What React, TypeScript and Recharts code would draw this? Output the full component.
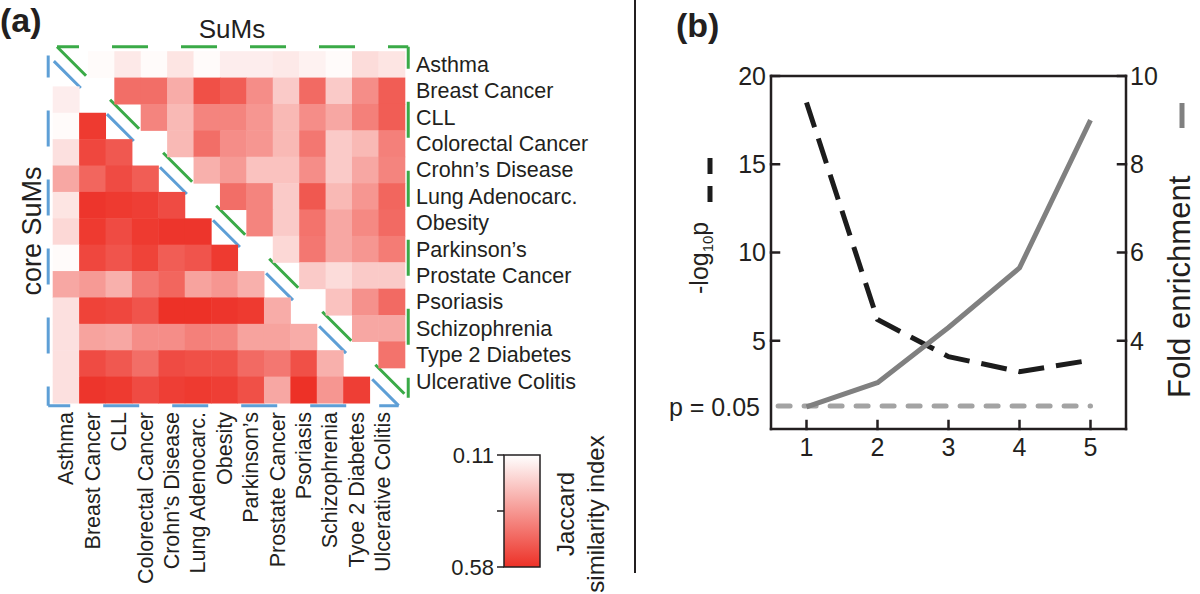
import React from "react";
import { ComposedChart, Line, ReferenceLine, Scatter, ScatterChart, XAxis, YAxis } from "recharts";

const FONT = "'Liberation Sans', Arial, Helvetica, sans-serif";
const INK = "#231F20";
const GREEN = "#3AAA47";
const BLUE = "#5E9FD6";

// ---- panel (a): Jaccard similarity between disease modules ----
const DISEASES = [
  "Asthma",
  "Breast Cancer",
  "CLL",
  "Colorectal Cancer",
  "Crohn’s Disease",
  "Lung Adenocarc.",
  "Obesity",
  "Parkinson’s",
  "Prostate Cancer",
  "Psoriasis",
  "Schizophrenia",
  "Type 2 Diabetes",
  "Ulcerative Colitis",
];

// labels as printed under the matrix
const COLUMN_LABELS = [
  "Asthma",
  "Breast Cancer",
  "CLL",
  "Colorectal Cancer",
  "Crohn’s Disease",
  "Lung Adenocarc.",
  "Obesity",
  "Parkinson’s",
  "Prostate Cancer",
  "Psoriasis",
  "Schizophrenia",
  "Tyoe 2 Diabetes",
  "Ulcerative Colitis",
];

// SuMs, upper triangle: row r holds columns r+1..12
const SUMS_UPPER = [
  [0.12, 0.16, 0.12, 0.17, 0.12, 0.15, 0.15, 0.16, 0.14, 0.12, 0.19, 0.17],
  [0.44, 0.44, 0.3, 0.51, 0.48, 0.37, 0.23, 0.45, 0.23, 0.37, 0.48],
  [0.39, 0.27, 0.39, 0.39, 0.35, 0.27, 0.37, 0.31, 0.4, 0.48],
  [0.27, 0.44, 0.37, 0.35, 0.27, 0.42, 0.23, 0.27, 0.4],
  [0.29, 0.34, 0.25, 0.25, 0.37, 0.23, 0.31, 0.39],
  [0.44, 0.39, 0.23, 0.49, 0.27, 0.35, 0.46],
  [0.39, 0.23, 0.43, 0.31, 0.38, 0.45],
  [0.2, 0.42, 0.31, 0.35, 0.41],
  [0.23, 0.19, 0.23, 0.23],
  [0.25, 0.36, 0.45],
  [0.31, 0.31],
  [0.43],
];

// core SuMs, lower triangle: row r holds columns 0..r-1
const CORE_LOWER = [
  [],
  [0.15],
  [0.12, 0.56],
  [0.18, 0.53, 0.49],
  [0.31, 0.46, 0.52, 0.48],
  [0.17, 0.57, 0.56, 0.55, 0.52],
  [0.2, 0.56, 0.52, 0.56, 0.57, 0.57],
  [0.12, 0.53, 0.5, 0.54, 0.48, 0.5, 0.56],
  [0.31, 0.34, 0.29, 0.42, 0.46, 0.32, 0.35, 0.29],
  [0.18, 0.54, 0.53, 0.5, 0.58, 0.58, 0.57, 0.56, 0.3],
  [0.18, 0.32, 0.31, 0.37, 0.37, 0.4, 0.39, 0.32, 0.32, 0.3],
  [0.18, 0.52, 0.49, 0.44, 0.52, 0.51, 0.51, 0.45, 0.42, 0.51, 0.29],
  [0.18, 0.57, 0.56, 0.52, 0.55, 0.56, 0.55, 0.51, 0.31, 0.58, 0.35, 0.55],
];

const JACCARD_MIN = 0.11;
const JACCARD_MAX = 0.58;

// ---- panel (b) ----
const ORDER = [1, 2, 3, 4, 5];
const NEG_LOG_P = [18.5, 6.2, 4.1, 3.25, 3.9];
const FOLD_ENRICHMENT = [2.5, 3.05, 4.3, 5.65, 9.0];
const P_THRESHOLD = 1.3; // -log10(0.05)

const upperCells = SUMS_UPPER.flatMap((row, r) => row.map((v, k) => ({ x: r + 1 + k, y: r, v })));
const lowerCells = CORE_LOWER.flatMap((row, r) => row.map((v, c) => ({ x: c, y: r, v })));
const enrichData = ORDER.map((x, i) => ({ x, p: NEG_LOG_P[i], fold: FOLD_ENRICHMENT[i] }));

const RED = [237, 49, 39];
function jaccardColor(v: number) {
  const t = Math.max(0, Math.min(1, (v - JACCARD_MIN) / (JACCARD_MAX - JACCARD_MIN)));
  const c = RED.map((ch) => Math.round(255 + (ch - 255) * t));
  return `rgb(${c[0]},${c[1]},${c[2]})`;
}

const HM_W = 600;
const HM_H = 594;
// the visible bottom x axis and right y axis take 1px each
const HM_MARGIN = { top: 60, right: 203, bottom: 190, left: 52.7 };
const CELL = (HM_W - HM_MARGIN.left - HM_MARGIN.right - 1) / 13;
const SHIFT = 1 / 3; // the SuMs triangle sits a third of a cell up and right
const IDX = DISEASES.map((_, i) => i);
const LABEL_SIZE = 21.5;

const CellShape = (props: any) => {
  const { cx, cy, payload } = props;
  return (
    <rect
      x={cx - CELL / 2}
      y={cy - CELL / 2}
      width={CELL + 0.5}
      height={CELL + 0.5}
      fill={jaccardColor(payload.v)}
    />
  );
};

const RowTick = ({ x, y, payload }: any) => (
  <text x={x} y={y} dy="0.35em" textAnchor="start" fontSize={LABEL_SIZE} fontFamily={FONT} fill={INK}>
    {DISEASES[payload.value]}
  </text>
);

const ColTick = ({ x, y, payload }: any) => (
  <text
    x={x}
    y={y}
    dy="0.35em"
    textAnchor="end"
    transform={`rotate(-90 ${x} ${y})`}
    fontSize={LABEL_SIZE}
    fontFamily={FONT}
    fill={INK}
  >
    {COLUMN_LABELS[payload.value]}
  </text>
);

const E = -0.67;
const G_END = 12.63;
const B_END = 12.6;

function Heatmap() {
  return (
    <ScatterChart width={HM_W} height={HM_H} margin={HM_MARGIN}>
      <XAxis
        xAxisId="low"
        type="number"
        dataKey="x"
        domain={[-0.5, 12.5]}
        ticks={IDX}
        interval={0}
        height={1}
        axisLine={false}
        tickLine={false}
        tickSize={0}
        tickMargin={9}
        tick={<ColTick />}
      />
      <XAxis xAxisId="up" type="number" dataKey="x" domain={[-0.5 - SHIFT, 12.5 - SHIFT]} hide />
      <YAxis yAxisId="low" type="number" dataKey="y" domain={[-0.5, 12.5]} reversed hide />
      <YAxis
        yAxisId="up"
        orientation="right"
        type="number"
        dataKey="y"
        domain={[-0.5 + SHIFT, 12.5 + SHIFT]}
        reversed
        ticks={IDX}
        interval={0}
        width={1}
        axisLine={false}
        tickLine={false}
        tickSize={0}
        tickMargin={20}
        tick={<RowTick />}
      />
      <Scatter data={lowerCells} xAxisId="low" yAxisId="low" shape={<CellShape />} isAnimationActive={false} />
      <Scatter data={upperCells} xAxisId="up" yAxisId="up" shape={<CellShape />} isAnimationActive={false} />

      {/* SuMs frame */}
      <ReferenceLine xAxisId="up" yAxisId="up" ifOverflow="visible" segment={[{ x: E, y: E }, { x: G_END, y: E }]}
        stroke={GREEN} strokeWidth={3} strokeDasharray="36 33" strokeDashoffset={14} />
      <ReferenceLine xAxisId="up" yAxisId="up" ifOverflow="visible" segment={[{ x: G_END, y: E }, { x: G_END, y: G_END }]}
        stroke={GREEN} strokeWidth={3} strokeDasharray="36 33" strokeDashoffset={14} />
      <ReferenceLine xAxisId="up" yAxisId="up" ifOverflow="visible" segment={[{ x: E, y: E }, { x: G_END, y: G_END }]}
        stroke={GREEN} strokeWidth={3} strokeDasharray="41 34" />

      {/* core SuMs frame */}
      <ReferenceLine xAxisId="low" yAxisId="low" ifOverflow="visible" segment={[{ x: E, y: E }, { x: E, y: B_END }]}
        stroke={BLUE} strokeWidth={3} strokeDasharray="36 33" strokeDashoffset={14} />
      <ReferenceLine xAxisId="low" yAxisId="low" ifOverflow="visible" segment={[{ x: E, y: B_END }, { x: B_END, y: B_END }]}
        stroke={BLUE} strokeWidth={3} strokeDasharray="36 33" strokeDashoffset={14} />
      <ReferenceLine xAxisId="low" yAxisId="low" ifOverflow="visible" segment={[{ x: E, y: E }, { x: B_END, y: B_END }]}
        stroke={BLUE} strokeWidth={3} strokeDasharray="38 37" strokeDashoffset={67} />
    </ScatterChart>
  );
}

const tickFont = { fontSize: 25, fontFamily: FONT, fill: INK };
const axisStroke = { stroke: INK, strokeWidth: 2.5, strokeLinecap: "square" as const };

function EnrichmentChart() {
  return (
    <ComposedChart width={560} height={594} data={enrichData} margin={{ top: 76, right: 73, bottom: 164, left: 130 }}>
      <XAxis
        dataKey="x"
        type="number"
        domain={[0.5, 5.5]}
        ticks={ORDER}
        interval={0}
        height={1}
        axisLine={axisStroke}
        tickLine={axisStroke}
        tickSize={-8}
        tickMargin={17}
        tick={tickFont}
      />
      <YAxis
        yAxisId="p"
        type="number"
        domain={[0, 20]}
        ticks={[5, 10, 15, 20]}
        interval={0}
        width={1}
        axisLine={axisStroke}
        tickLine={axisStroke}
        tickSize={-8}
        tickMargin={13}
        tick={tickFont}
      />
      <YAxis
        yAxisId="fold"
        orientation="right"
        type="number"
        domain={[2, 10]}
        ticks={[4, 6, 8, 10]}
        interval={0}
        width={1}
        axisLine={axisStroke}
        tickLine={axisStroke}
        tickSize={-8}
        tickMargin={12}
        tick={tickFont}
      />
      <ReferenceLine yAxisId="p" y={20} ifOverflow="visible" stroke={INK} strokeWidth={2.5} />
      <ReferenceLine
        yAxisId="p"
        ifOverflow="visible"
        segment={[{ x: 0.6, y: P_THRESHOLD }, { x: 5, y: P_THRESHOLD }]}
        stroke="#A3A3A3"
        strokeWidth={5}
        strokeLinecap="round"
        strokeDasharray="12 14"
      />
      <Line
        yAxisId="p"
        dataKey="p"
        type="linear"
        stroke="#1C1C1C"
        strokeWidth={5}
        strokeDasharray="26 12"
        dot={false}
        isAnimationActive={false}
      />
      <Line
        yAxisId="fold"
        dataKey="fold"
        type="linear"
        stroke="#808080"
        strokeWidth={5}
        strokeLinejoin="round"
        dot={false}
        isAnimationActive={false}
      />
    </ComposedChart>
  );
}

function Annotations() {
  const txt = { fontFamily: FONT, fill: INK };
  return (
    <svg width={1200} height={594} style={{ position: "absolute", left: 0, top: 0, pointerEvents: "none" }}>
      <defs>
        <linearGradient id="jaccard-bar" x1="0" y1="0" x2="0" y2="1">
          <stop offset="0%" stopColor={jaccardColor(JACCARD_MIN)} />
          <stop offset="100%" stopColor={jaccardColor(JACCARD_MAX)} />
        </linearGradient>
      </defs>

      <text x={0} y={32} fontSize={34} fontWeight={700} {...txt}>(a)</text>
      <text x={676} y={37} fontSize={34} fontWeight={700} {...txt}>(b)</text>

      <text x={232} y={38} fontSize={26} textAnchor="middle" {...txt}>SuMs</text>
      <text transform="translate(41 231) rotate(-90)" fontSize={27} textAnchor="middle" {...txt}>core SuMs</text>

      {/* colour bar */}
      <rect x={504} y={455} width={36} height={112} fill="url(#jaccard-bar)" stroke={INK} strokeWidth={1.5} />
      {[455, 511, 567].map((y) => (
        <line key={y} x1={497} x2={504} y1={y} y2={y} stroke={INK} strokeWidth={1.5} />
      ))}
      <text x={494} y={455} dy="0.35em" fontSize={22} textAnchor="end" {...txt}>{JACCARD_MIN.toFixed(2)}</text>
      <text x={494} y={567} dy="0.35em" fontSize={22} textAnchor="end" {...txt}>{JACCARD_MAX.toFixed(2)}</text>
      <text transform="translate(574 514) rotate(-90)" fontSize={24} textAnchor="middle" {...txt}>Jaccard</text>
      <text transform="translate(604 514) rotate(-90)" fontSize={24} textAnchor="middle" {...txt}>similarity index</text>

      <line x1={635} x2={635} y1={0} y2={573} stroke={INK} strokeWidth={2} />

      {/* panel (b) axis titles */}
      <text x={760} y={407} dy="0.35em" fontSize={25} textAnchor="end" {...txt}>p = 0.05</text>
      <text transform="translate(708 294) rotate(-90)" fontSize={25} textAnchor="start" {...txt}>
        -log<tspan fontSize={15} dy={5}>10</tspan><tspan dy={-5}>p</tspan>
      </text>
      <line x1={710} x2={710} y1={158} y2={202} stroke="#1C1C1C" strokeWidth={5} strokeDasharray="16 12" />
      <text transform="translate(1190 398) rotate(-90)" fontSize={31} textAnchor="start" {...txt}>Fold enrichment</text>
      <line x1={1182} x2={1182} y1={103} y2={128} stroke="#808080" strokeWidth={5} />
    </svg>
  );
}

export default function App() {
  return (
    <div style={{ position: "absolute", left: 0, top: 0, width: 1200, height: 594, background: "#fff", overflow: "hidden" }}>
      <div style={{ position: "absolute", left: 0, top: 0 }}>
        <Heatmap />
      </div>
      <div style={{ position: "absolute", left: 640, top: 0 }}>
        <EnrichmentChart />
      </div>
      <Annotations />
    </div>
  );
}
